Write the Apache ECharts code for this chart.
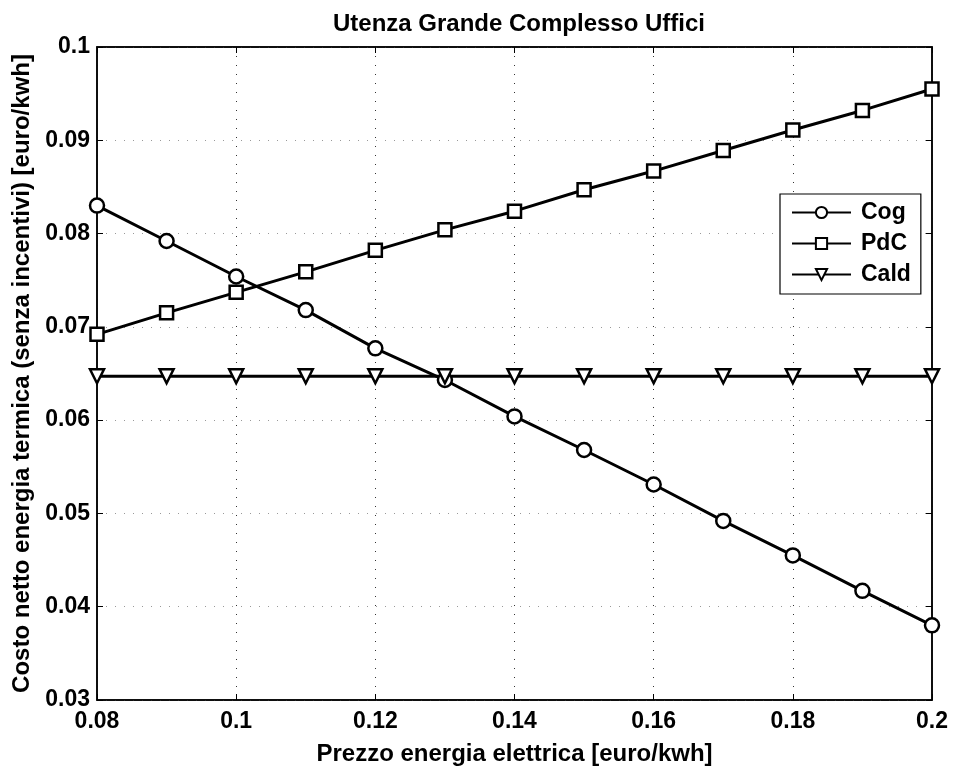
<!DOCTYPE html>
<html>
<head>
<meta charset="utf-8">
<script src="https://cdn.jsdelivr.net/npm/echarts@6/dist/echarts.min.js"></script>
<style>html,body{margin:0;padding:0;background:#fff}#c{width:953px;height:771px}</style>
</head>
<body>
<div id="c"></div>
<script>
const xValues = [0.08, 0.09, 0.10, 0.11, 0.12, 0.13, 0.14, 0.15, 0.16, 0.17, 0.18, 0.19, 0.20];
const cog  = [0.0830, 0.0792, 0.0754, 0.0718, 0.0677, 0.0643, 0.0604, 0.0568, 0.0531, 0.0492, 0.0455, 0.0417, 0.0380];
const pdc  = [0.0692, 0.0715, 0.0737, 0.0759, 0.0782, 0.0804, 0.0824, 0.0847, 0.0867, 0.0889, 0.0911, 0.0932, 0.0955];
const cald = [0.0647, 0.0647, 0.0647, 0.0647, 0.0647, 0.0647, 0.0647, 0.0647, 0.0647, 0.0647, 0.0647, 0.0647, 0.0647];
const seriesNames = ['Cog', 'PdC', 'Cald'];
const titleText = 'Utenza Grande Complesso Uffici';
const xName = 'Prezzo energia elettrica [euro/kwh]';
const yName = 'Costo netto energia termica (senza incentivi) [euro/kwh]';

const FONT = '"Liberation Sans", Arial, sans-serif';
const fmt = v => String(+v.toFixed(2));
const pair = arr => xValues.map((x, i) => [x, arr[i]]);

const chart = echarts.init(document.getElementById('c'), null, {renderer: 'canvas'});
const baseSeries = (name, data, symbol, rotate) => ({
  name, type: 'line', data: pair(data), xAxisIndex: 0, yAxisIndex: 0,
  symbol, symbolSize: symbol === 'rect' ? 13 : 14, symbolRotate: rotate || 0,
  showAllSymbol: true,
  lineStyle: {color: '#000', width: 3},
  itemStyle: {color: '#fff', borderColor: '#000', borderWidth: 2.5},
  emphasis: {disabled: true}, animation: false
});

chart.setOption({
  animation: false,
  backgroundColor: '#fff',
  title: {
    text: titleText, left: 514, textAlign: 'center', top: 7,
    textStyle: {fontFamily: FONT, fontWeight: 'bold', fontSize: 24, color: '#000'}
  },
  grid: {left: 97, right: 21, top: 47, bottom: 65, show: true, borderColor: '#000', borderWidth: 1.5},
  legend: {
    orient: 'vertical', left: 780, top: 194,
    data: seriesNames,
    backgroundColor: '#fff', borderColor: '#000', borderWidth: 1.2,
    padding: [7, 10, 8, 11], itemGap: 8, itemWidth: 59, itemHeight: 14,
    textStyle: {fontFamily: FONT, fontWeight: 'bold', fontSize: 23, color: '#000', padding: [0, 0, 0, 5]}
  },
  xAxis: [{
    type: 'value', min: 0.08, max: 0.2, interval: 0.02, position: 'bottom',
    name: xName, nameLocation: 'middle', nameGap: 42,
    nameTextStyle: {fontFamily: FONT, fontWeight: 'bold', fontSize: 24, color: '#000'},
    axisLine: {show: true, lineStyle: {color: '#000', width: 1.5}},
    axisTick: {show: true, inside: true, length: 6, lineStyle: {color: '#000'}},
    axisLabel: {formatter: fmt, margin: 10, fontFamily: FONT, fontWeight: 'bold', fontSize: 23, color: '#000'},
    splitLine: {show: true, lineStyle: {color: '#333', type: [1, 8], width: 1}}
  }, {
    type: 'value', min: 0.08, max: 0.2, interval: 0.02, position: 'top',
    axisLine: {show: true, lineStyle: {color: '#000', width: 1.5}},
    axisTick: {show: true, inside: true, length: 6, lineStyle: {color: '#000'}},
    axisLabel: {show: false}, splitLine: {show: false}
  }],
  yAxis: [{
    type: 'value', min: 0.03, max: 0.1, interval: 0.01, position: 'left',
    name: yName, nameLocation: 'middle', nameGap: 62, nameRotate: 90,
    nameTextStyle: {fontFamily: FONT, fontWeight: 'bold', fontSize: 24, color: '#000'},
    axisLine: {show: true, lineStyle: {color: '#000', width: 1.5}},
    axisTick: {show: true, inside: true, length: 6, lineStyle: {color: '#000'}},
    axisLabel: {formatter: fmt, margin: 7, fontFamily: FONT, fontWeight: 'bold', fontSize: 23, color: '#000'},
    splitLine: {show: true, lineStyle: {color: '#999', type: [1, 8], width: 1}}
  }, {
    type: 'value', min: 0.03, max: 0.1, interval: 0.01, position: 'right',
    axisLine: {show: true, lineStyle: {color: '#000', width: 1.5}},
    axisTick: {show: true, inside: true, length: 6, lineStyle: {color: '#000'}},
    axisLabel: {show: false}, splitLine: {show: false}
  }],
  series: [
    baseSeries(seriesNames[0], cog, 'circle'),
    baseSeries(seriesNames[1], pdc, 'rect'),
    baseSeries(seriesNames[2], cald, 'triangle', 180)
  ]
});
</script>
</body>
</html>
